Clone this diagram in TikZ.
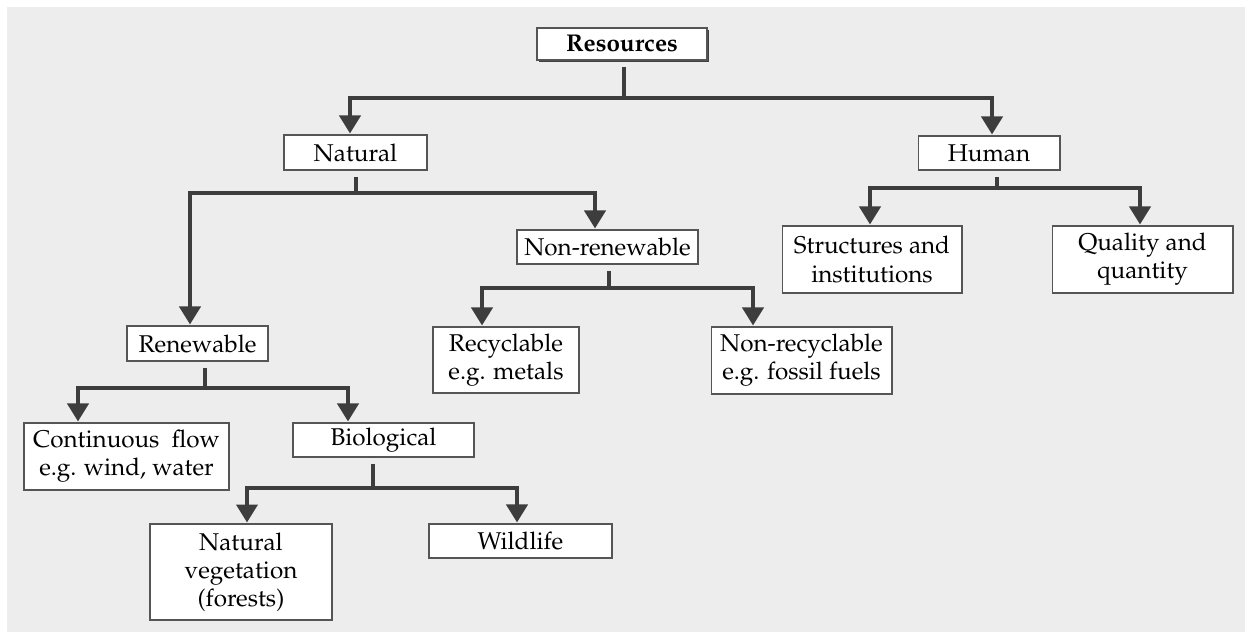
\documentclass[tikz,border=0pt]{standalone}
\usepackage[T1]{fontenc}
\usepackage{mathpazo}
\usetikzlibrary{calc,arrows.meta,shadows}
\definecolor{bggrey}{HTML}{EDEDED}
\definecolor{linegrey}{HTML}{3D3D3D}
\definecolor{boxgrey}{HTML}{555555}

\begin{document}
\begin{tikzpicture}[x=0.02cm,y=-0.02cm,
  box/.style={draw=boxgrey,line width=0.6pt,fill=white,align=center,inner sep=1pt,
    font=\fontsize{13.8}{16}\selectfont},
  stem/.style={draw=linegrey,line width=0.08cm},
  arrow/.style={stem,-{Triangle[width=0.42cm,length=0.36cm]}}]
  \useasboundingbox (0,0) rectangle (1250,637);
  \fill[bggrey] (7,7) rectangle (1245,632);

  % boxes
  \node[box,minimum width=3.4cm,minimum height=0.64cm,font=\fontsize{13.8}{16}\selectfont\bfseries,
    drop shadow={shadow xshift=1.4pt,shadow yshift=-1.4pt,fill=black!75,opacity=1}]
    (res) at (622,44) {Resources};
  \node[box,minimum width=2.86cm,minimum height=0.70cm] (nat) at (355.5,152.5) {Natural};
  \node[box,minimum width=2.84cm,minimum height=0.68cm] (hum) at (989,153) {Human};
  \node[box,minimum width=3.62cm,minimum height=0.68cm] (nren) at (607.5,247) {Non-renewable};
  \node[box,minimum width=2.92cm,minimum height=1.32cm] (rec) at (506,360) {Recyclable\\e.g. metals};
  \node[box,minimum width=3.62cm,minimum height=1.34cm] (nrec) at (801.5,360.5) {Non-recyclable\\e.g. fossil fuels};
  \node[box,minimum width=3.60cm,minimum height=1.34cm] (str) at (872,259.5) {Structures and\\institutions};
  \node[box,minimum width=3.62cm,minimum height=1.34cm] (qua) at (1142.5,259.5) {Quality and\\quantity};
  \node[box,minimum width=2.82cm,minimum height=0.70cm] (ren) at (197.5,343.5) {Renewable};
  \node[box,minimum width=4.10cm,minimum height=1.34cm] (con) at (126.5,456.5)
    {Continuous\hspace{0.5em}flow\\e.g. wind, water};
  \node[box,minimum width=3.62cm,minimum height=0.68cm] (bio) at (383.5,440) {Biological};
  \node[box,minimum width=3.64cm,minimum height=1.92cm] (veg) at (241,572) {Natural\\vegetation\\(forests)};
  \node[box,minimum width=3.66cm,minimum height=0.68cm] (wil) at (520.5,541) {Wildlife};

  % junctions on the bars
  \coordinate (resj) at ($(res.south)+(2,37)$);
  \coordinate (natj) at ($(nat.south)+(0,22)$);
  \coordinate (humj) at ($(hum.south)+(8,17)$);
  \coordinate (nrenj) at ($(nren.south)+(1.5,23)$);
  \coordinate (renj) at ($(ren.south)+(7.5,26)$);
  \coordinate (bioj) at ($(bio.south)+(-10.5,30)$);

  % stems
  \draw[stem] ($(res.south)+(2,6)$) -- (resj);
  \draw[stem] ($(nat.south)+(0,6)$) -- (natj);
  \draw[stem] ($(hum.south)+(8,6)$) -- (humj);
  \draw[stem] ($(nren.south)+(1.5,6)$) -- (nrenj);
  \draw[stem] ($(ren.south)+(7.5,6)$) -- (renj);
  \draw[stem] ($(bio.south)+(-10.5,6)$) -- (bioj);

  % bars and arrows
  \draw[arrow] (resj) -| ($(nat.north)+(-5.5,-1)$);
  \draw[arrow] (resj) -| ($(hum.north)+(3,-1)$);
  \draw[arrow] (natj) -| ($(ren.north)+(-7.5,-1)$);
  \draw[arrow] (natj) -| ($(nren.north)+(-12.5,-1)$);
  \draw[arrow] (humj) -| ($(str.north)+(-2,-1)$);
  \draw[arrow] (humj) -| ($(qua.north)+(-2.5,-1)$);
  \draw[arrow] (nrenj) -| ($(rec.north)+(-24,-1)$);
  \draw[arrow] (nrenj) -| ($(nrec.north)+(-48.5,-1)$);
  \draw[arrow] (renj) -| ($(con.north)+(-48.5,-1)$);
  \draw[arrow] (renj) -| ($(bio.north)+(-35.5,-1)$);
  \draw[arrow] (bioj) -| ($(veg.north)+(6,-1)$);
  \draw[arrow] (bioj) -| ($(wil.north)+(-3.5,-1)$);
\end{tikzpicture}
\end{document}
